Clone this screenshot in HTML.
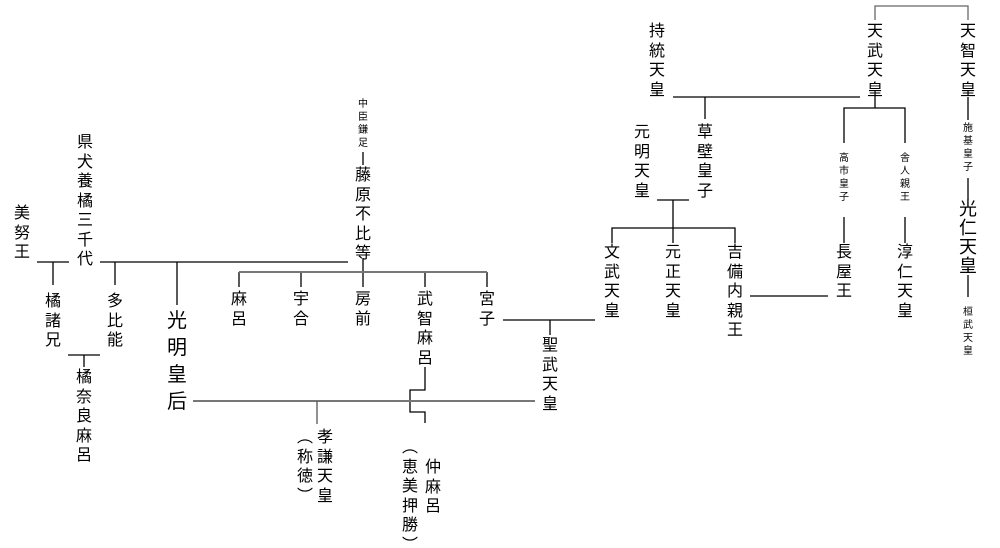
<!DOCTYPE html>
<html><head><meta charset="utf-8">
<style>
body{margin:0;background:#fff;}
#c{position:relative;width:1000px;height:548px;overflow:hidden;font-family:"Liberation Sans","Noto Sans CJK JP",sans-serif;color:#000;}
.t{position:absolute;width:30px;margin-left:-15px;text-align:center;white-space:nowrap;font-size:16px;line-height:19.5px;}
.s{font-size:10px;line-height:13px;}
.b{font-size:20px;line-height:27px;}
svg{position:absolute;left:0;top:0;}
</style></head><body><div id="c">
<svg width="1000" height="548">
<g stroke="#000" stroke-width="1.3" fill="none">
<polyline points="875,20 875,6 968,6 968,20" stroke="#666"/>
<line x1="673" y1="97" x2="860" y2="97"/>
<line x1="705" y1="97" x2="705" y2="119"/>
<line x1="875" y1="95" x2="875" y2="108"/>
<polyline points="844,143 844,108 905,108 905,143"/>
<line x1="844" y1="217" x2="844" y2="243"/>
<line x1="905" y1="217" x2="905" y2="243"/>
<line x1="968" y1="97" x2="968" y2="120"/>
<line x1="968" y1="178" x2="968" y2="200"/>
<line x1="968" y1="275" x2="968" y2="297"/>
<line x1="657" y1="200" x2="689" y2="200"/>
<line x1="673" y1="200" x2="673" y2="243"/>
<polyline points="612,243 612,228 735,228 735,243"/>
<line x1="750" y1="296" x2="828" y2="296"/>
<line x1="37" y1="262" x2="69" y2="262"/>
<line x1="53" y1="262" x2="53" y2="285"/>
<line x1="100" y1="262" x2="348" y2="262"/>
<line x1="115" y1="262" x2="115" y2="285"/>
<line x1="177" y1="262" x2="177" y2="305"/>
<line x1="363" y1="152" x2="363" y2="165"/>
<line x1="363" y1="258" x2="363" y2="287"/>
<line x1="68" y1="355" x2="100" y2="355"/>
<line x1="84" y1="355" x2="84" y2="367"/>
<line x1="503" y1="320" x2="595" y2="320"/>
<line x1="550" y1="320" x2="550" y2="335"/>
<polyline points="425,367 425,390 410,390 410,412 425,412 425,423"/>
<line x1="239" y1="272" x2="239" y2="287"/>
<line x1="301" y1="272" x2="301" y2="287"/>
<line x1="425" y1="272" x2="425" y2="287"/>
<line x1="487" y1="272" x2="487" y2="287"/>
</g>
<g stroke="#777" stroke-width="2" fill="none">
<line x1="239" y1="272" x2="487" y2="272"/>
<line x1="193" y1="401" x2="535" y2="401"/>
</g>
<line x1="317" y1="401" x2="317" y2="424" stroke="#555" stroke-width="1.3"/>
</svg>
<div class="t" style="left:968px;top:22px">天<br>智<br>天<br>皇</div>
<div class="t" style="left:875px;top:22px">天<br>武<br>天<br>皇</div>
<div class="t" style="left:657px;top:22px">持<br>統<br>天<br>皇</div>
<div class="t s" style="left:844px;top:152px">高<br>市<br>皇<br>子</div>
<div class="t s" style="left:905px;top:152px">舎<br>人<br>親<br>王</div>
<div class="t s" style="left:968px;top:122px">施<br>基<br>皇<br>子</div>
<div class="t" style="left:968px;top:200px;font-size:18px;line-height:19px">光<br>仁<br>天<br>皇</div>
<div class="t s" style="left:968px;top:306px">桓<br>武<br>天<br>皇</div>
<div class="t" style="left:844px;top:243px">長<br>屋<br>王</div>
<div class="t" style="left:905px;top:243px">淳<br>仁<br>天<br>皇</div>
<div class="t" style="left:705px;top:123px">草<br>壁<br>皇<br>子</div>
<div class="t" style="left:642px;top:123px">元<br>明<br>天<br>皇</div>
<div class="t" style="left:612px;top:243px">文<br>武<br>天<br>皇</div>
<div class="t" style="left:673px;top:243px">元<br>正<br>天<br>皇</div>
<div class="t" style="left:735px;top:243px">吉<br>備<br>内<br>親<br>王</div>
<div class="t s" style="left:363px;top:98px">中<br>臣<br>鎌<br>足</div>
<div class="t" style="left:363px;top:166px">藤<br>原<br>不<br>比<br>等</div>
<div class="t" style="left:85px;top:133px">県<br>犬<br>養<br>橘<br>三<br>千<br>代</div>
<div class="t" style="left:22px;top:204px">美<br>努<br>王</div>
<div class="t" style="left:53px;top:292px">橘<br>諸<br>兄</div>
<div class="t" style="left:115px;top:292px">多<br>比<br>能</div>
<div class="t b" style="left:177px;top:308px">光<br>明<br>皇<br>后</div>
<div class="t" style="left:84px;top:368px">橘<br>奈<br>良<br>麻<br>呂</div>
<div class="t" style="left:239px;top:290px">麻<br>呂</div>
<div class="t" style="left:301px;top:290px">宇<br>合</div>
<div class="t" style="left:363px;top:290px">房<br>前</div>
<div class="t" style="left:425px;top:290px">武<br>智<br>麻<br>呂</div>
<div class="t" style="left:487px;top:290px">宮<br>子</div>
<div class="t" style="left:550px;top:336px">聖<br>武<br>天<br>皇</div>
<div class="t" style="left:325px;top:428px">孝<br>謙<br>天<br>皇</div>
<div class="t" style="left:305px;top:428px">︵<br>称<br>徳<br>︶</div>
<div class="t" style="left:433px;top:458px">仲<br>麻<br>呂</div>
<div class="t" style="left:410px;top:438px">︵<br>恵<br>美<br>押<br>勝<br>︶</div>
</div></body></html>
